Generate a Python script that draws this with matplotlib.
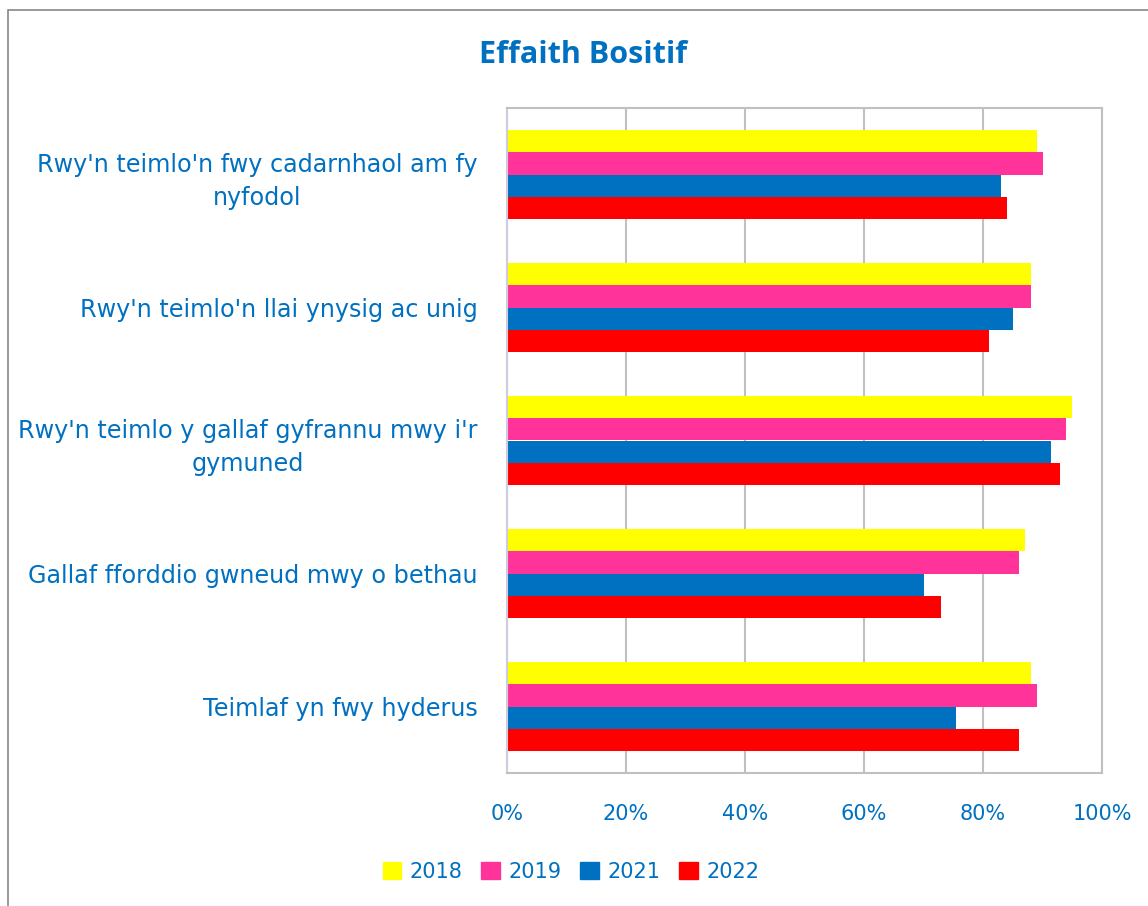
import numpy as np
import matplotlib.pyplot as plt
from matplotlib.patches import Rectangle

plt.rcParams['font.family'] = ['DejaVu Sans']

categories = ["Rwy'n teimlo'n fwy cadarnhaol am fy\nnyfodol",
              "Rwy'n teimlo'n llai ynysig ac unig",
              "Rwy'n teimlo y gallaf gyfrannu mwy i'r\ngymuned",
              "Gallaf fforddio gwneud mwy o bethau",
              "Teimlaf yn fwy hyderus"]
years = ['2018', '2019', '2021', '2022']
v2018 = [89, 88, 95, 87, 88]
v2019 = [90, 88, 94, 86, 89]
v2021 = [83, 85, 91.5, 70, 75.5]
v2022 = [84, 81, 93, 73, 86]
colors = ['#FFFF00', '#FF3399', '#0070C0', '#FF0000']
blue = '#0070C0'

series = [v2018, v2019, v2021, v2022]

fig = plt.figure(figsize=(11.48, 9.06), dpi=100)
fig.patches.append(Rectangle((8 / 1148, -0.01), 1.1, 1 - 10 / 906 + 0.01,
                             transform=fig.transFigure, fill=False,
                             edgecolor='#888888', linewidth=1.2))
ax = fig.add_axes([507 / 1148, 1 - 773 / 906, 595 / 1148, 665 / 906])

y = np.arange(len(categories))
h = 0.167
for i, (vals, c) in enumerate(zip(series, colors)):
    ax.barh(y + (i - 1.5) * h, vals, height=h, color=c, label=years[i])

ax.set_xlim(0, 100)
ax.set_ylim(len(categories) - 0.5, -0.5)
ax.set_xticks(range(0, 101, 20))
ax.set_xticklabels([f'{t}%' for t in range(0, 101, 20)])
ax.set_yticks(y)
ax.set_yticklabels(categories, multialignment='center', linespacing=1.5)
ax.tick_params(axis='x', colors=blue, labelsize=15, length=0, pad=22)
ax.tick_params(axis='y', colors=blue, labelsize=17.2, length=0, pad=21)
ax.xaxis.grid(True, color='#C0C0C0', linewidth=1.5)
ax.set_axisbelow(True)
for s in ax.spines.values():
    s.set_color('#C0C0C0')
    s.set_linewidth(1.5)
ax.spines['left'].set_color('#D0CCE0')

fig.text(583 / 1148, 1 - 55 / 906, 'Effaith Bositif', ha='center', va='center',
         fontsize=22, fontweight='bold', color=blue, family=['Open Sans', 'DejaVu Sans'])

handles = [Rectangle((0, 0), 1, 1, color=c) for c in colors]
fig.legend(handles, years, loc='center', bbox_to_anchor=(571 / 1148, 1 - 872 / 906),
           ncol=4, frameon=False, fontsize=15, labelcolor=blue,
           handlelength=0.9, handleheight=0.9, handletextpad=0.4, columnspacing=0.9)

fig.savefig('out.png', dpi=100)
